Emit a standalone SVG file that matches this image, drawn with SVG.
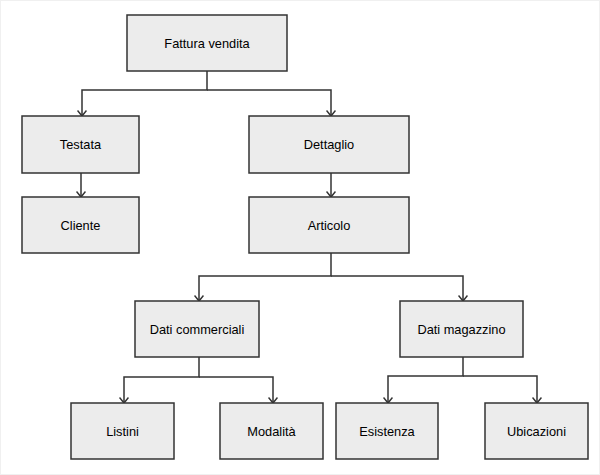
<svg xmlns="http://www.w3.org/2000/svg" width="600" height="475" viewBox="0 0 600 475">
<defs>
<style>
.box{fill:#ececec;stroke:#333;stroke-width:1.5}
.lbl{font-family:"Liberation Sans",Arial,sans-serif;font-size:12.8px;fill:#000;text-anchor:middle;dominant-baseline:central}
.ed{fill:none;stroke:#333;stroke-width:1.5;marker-end:url(#arr)}
</style>
<marker id="arr" markerWidth="10" markerHeight="10" refX="8" refY="5" orient="auto" markerUnits="userSpaceOnUse" viewBox="0 0 10 10">
<path d="M2.5,0.5 L8,5 L2.5,9.5" fill="none" stroke="#333" stroke-width="1.5"/>
</marker>
</defs>
<rect x="0.5" y="0.5" width="599" height="474" fill="#fff" stroke="#f0f0f0"/>
<g id="connectors">
<path class="ed" d="M207,71 V90 H82 V116"/>
<path class="ed" d="M207,90 H331 V116"/>
<path class="ed" d="M81,173 V197"/>
<path class="ed" d="M331,173 V197"/>
<path class="ed" d="M331,253 V276 H199 V301"/>
<path class="ed" d="M331,276 H463 V301"/>
<path class="ed" d="M199,357 V377 H124 V403"/>
<path class="ed" d="M199,377 H273 V403"/>
<path class="ed" d="M463,357 V376 H388 V403"/>
<path class="ed" d="M463,376 H537 V403"/>
</g>
<g id="fattura"><rect class="box" x="127" y="15" width="160" height="56"/><text class="lbl" x="207" y="43">Fattura vendita</text></g>
<g id="testata"><rect class="box" x="22" y="116" width="117" height="57"/><text class="lbl" x="80.5" y="144.5">Testata</text></g>
<g id="dettaglio"><rect class="box" x="249" y="116" width="160" height="57"/><text class="lbl" x="329" y="144.5">Dettaglio</text></g>
<g id="cliente"><rect class="box" x="22" y="197" width="117" height="56"/><text class="lbl" x="80.5" y="225">Cliente</text></g>
<g id="articolo"><rect class="box" x="249" y="197" width="160" height="56"/><text class="lbl" x="329" y="225">Articolo</text></g>
<g id="daticommerciali"><rect class="box" x="135" y="301" width="124" height="56"/><text class="lbl" x="197" y="329">Dati commerciali</text></g>
<g id="datimagazzino"><rect class="box" x="400" y="301" width="123" height="56"/><text class="lbl" x="461.5" y="329">Dati magazzino</text></g>
<g id="listini"><rect class="box" x="71" y="403" width="103" height="56"/><text class="lbl" x="122.5" y="431">Listini</text></g>
<g id="modalita"><rect class="box" x="220" y="403" width="103" height="56"/><text class="lbl" x="271.5" y="431">Modalità</text></g>
<g id="esistenza"><rect class="box" x="336" y="403" width="102" height="56"/><text class="lbl" x="387" y="431">Esistenza</text></g>
<g id="ubicazioni"><rect class="box" x="485" y="403" width="103" height="56"/><text class="lbl" x="536.5" y="431">Ubicazioni</text></g>
</svg>
